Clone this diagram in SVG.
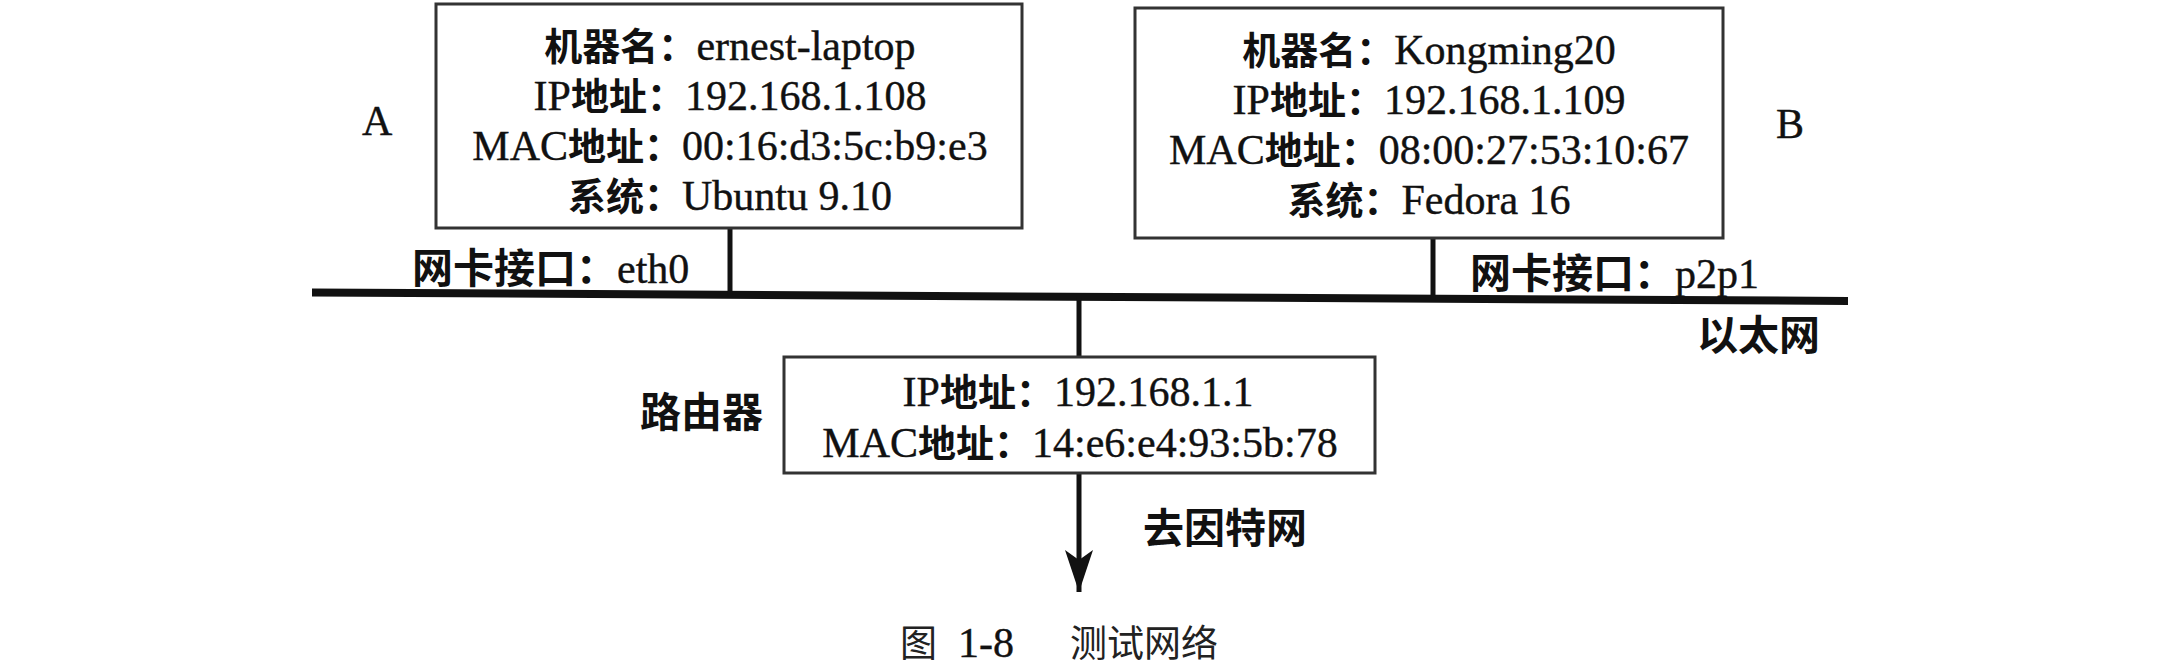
<svg xmlns="http://www.w3.org/2000/svg" width="2161" height="665" viewBox="0 0 2161 665">
<style>
.t { font-family: "Liberation Serif", "Noto Sans CJK SC", serif; font-size: 42px; fill: #111; text-anchor: middle; stroke: #111; stroke-width: 0.4; }
.s { font-family: "Liberation Serif", "Noto Sans CJK SC", serif; font-size: 42px; fill: #111; stroke: #111; stroke-width: 0.4; }
.c { font-family: "Noto Sans CJK SC", sans-serif; font-size: 38px; font-weight: 700; stroke-width: 0; }
.cl { font-family: "Noto Sans CJK SC", sans-serif; font-size: 41px; font-weight: 700; stroke-width: 0; }
.cap { font-family: "Noto Sans CJK SC", sans-serif; font-size: 37px; font-weight: 400; fill: #222; }
.box { fill: #fff; stroke: #333; stroke-width: 3; }
.wire { stroke: #111; stroke-width: 5; fill: none; }
.bus { stroke: #111; stroke-width: 8; fill: none; }
</style>
<defs>
<marker id="arrow" markerUnits="userSpaceOnUse" markerWidth="44" markerHeight="30" viewBox="0 0 44 30" refX="42" refY="15" orient="auto">
<path d="M0,1 L42,15 L0,29 L10,15 Z" fill="#111"/>
</marker>
</defs>

<g id="connectors">
<line class="bus" x1="312" y1="292.5" x2="1848" y2="301"/>
<line class="wire" x1="730" y1="228" x2="730" y2="295"/>
<line class="wire" x1="1433" y1="238" x2="1433" y2="299"/>
<line class="wire" x1="1079" y1="297" x2="1079" y2="357"/>
<line class="wire" x1="1079" y1="473" x2="1079" y2="592" marker-end="url(#arrow)"/>
</g>

<g id="hostA">
<rect class="box" x="436" y="4" width="586" height="224"/>
<text class="t" x="730" y="60"><tspan class="c">机器名：</tspan>ernest-laptop</text>
<text class="t" x="730" y="110">IP<tspan class="c">地址：</tspan>192.168.1.108</text>
<text class="t" x="730" y="160">MAC<tspan class="c">地址：</tspan>00:16:d3:5c:b9:e3</text>
<text class="t" x="730" y="210"><tspan class="c">系统：</tspan>Ubuntu 9.10</text>
<text class="s" x="362" y="135" font-size="38">A</text>
<text class="s" x="412" y="283"><tspan class="cl">网卡接口：</tspan>eth0</text>
</g>

<g id="hostB">
<rect class="box" x="1135" y="8" width="588" height="230"/>
<text class="t" x="1429" y="64"><tspan class="c">机器名：</tspan>Kongming20</text>
<text class="t" x="1429" y="114">IP<tspan class="c">地址：</tspan>192.168.1.109</text>
<text class="t" x="1429" y="164">MAC<tspan class="c">地址：</tspan>08:00:27:53:10:67</text>
<text class="t" x="1429" y="214"><tspan class="c">系统：</tspan>Fedora 16</text>
<text class="s" x="1776" y="138" font-size="38">B</text>
<text class="s" x="1470" y="288"><tspan class="cl">网卡接口：</tspan>p2p1</text>
</g>

<g id="ethernet">
<text class="s" x="1697" y="350"><tspan class="cl">以太网</tspan></text>
</g>

<g id="router">
<rect class="box" x="784" y="357" width="591" height="116"/>
<text class="t" x="1078" y="406">IP<tspan class="c">地址：</tspan>192.168.1.1</text>
<text class="t" x="1080" y="457">MAC<tspan class="c">地址：</tspan>14:e6:e4:93:5b:78</text>
<text class="s" x="640" y="427"><tspan class="cl">路由器</tspan></text>
</g>

<g id="internet">
<text class="s" x="1143" y="543"><tspan class="cl">去因特网</tspan></text>
</g>

<g id="caption">
<text class="cap" x="900" y="657">图</text>
<text class="s" x="958" y="657" font-size="40" fill="#222" stroke-width="0">1-8</text>
<text class="cap" x="1070" y="657">测试网络</text>
</g>
</svg>
